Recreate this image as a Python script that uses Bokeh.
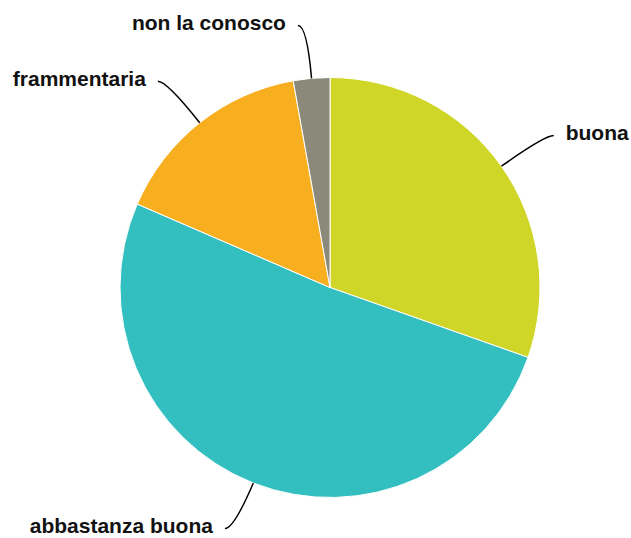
import numpy as np
from bokeh.plotting import figure
from bokeh.models import Range1d
from bokeh.core.properties import value
from bokeh.embed import file_html
from bokeh.resources import INLINE

# ---- data ----
categories = ["buona", "abbastanza buona", "frammentaria", "non la conosco"]
values = [30.4, 51.1, 15.7, 2.8]
colors = ["#CFD628", "#33BEBF", "#F7AE1F", "#8B8A7A"]

# ---- layout (pixel units, origin at pie centre) ----
W, H = 631, 538
CX, CY = 329.5, 287.0          # pie centre inside canvas
R = 210.0                       # pie radius
RC = 263.0                      # leader-line bend radius
HOOK = 9.0                      # horizontal hook of leader line
GAP = 12.0                      # gap between line end and text
YMIN = -(H - CY)

p = figure(width=W, height=H, output_backend="svg", toolbar_location=None,
           x_range=Range1d(-CX, W - CX), y_range=Range1d(YMIN, CY),
           min_border=0, outline_line_color=None, background_fill_color="white",
           border_fill_color="white")
p.axis.visible = False
p.grid.visible = False

frac = np.array(values, dtype=float) / sum(values)
cum = np.concatenate([[0.0], np.cumsum(frac)])
start = np.pi / 2 - cum[:-1] * 2 * np.pi
end = np.pi / 2 - cum[1:] * 2 * np.pi
mid = (start + end) / 2

p.wedge(x=0, y=0, radius=R, start_angle=list(start), end_angle=list(end),
        direction="clock", fill_color=colors, line_color="white", line_width=1)

for i, name in enumerate(categories):
    a = mid[i]
    sgn = 1.0 if np.cos(a) >= 0 else -1.0
    ex, ey = R * np.cos(a), R * np.sin(a)
    cx, cy = RC * np.cos(a), RC * np.sin(a)
    cy = max(cy, YMIN + 10)     # keep the label inside the canvas
    lx, ly = cx + sgn * HOOK, cy
    p.quadratic(x0=[ex], y0=[ey], x1=[lx], y1=[ly], cx=[cx], cy=[cy],
                line_color="black", line_width=1.5)
    p.text(x=[lx + sgn * GAP], y=[ly + 3], text=[name],
           text_font=value("Liberation Sans"), text_font_style="bold",
           text_font_size="21px", text_color="#111111",
           text_align="left" if sgn > 0 else "right", text_baseline="middle")

open("out.html", "w").write(file_html(p, INLINE))
